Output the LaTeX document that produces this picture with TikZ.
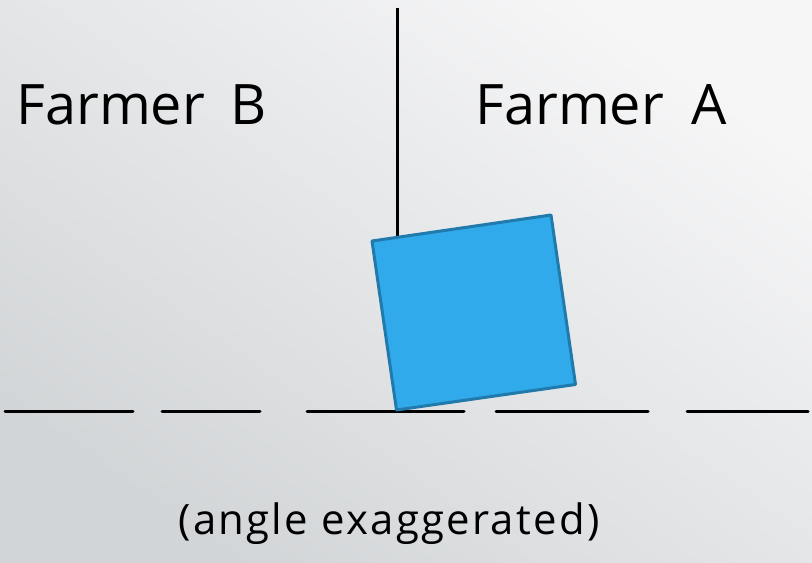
\documentclass[tikz,border=0pt]{standalone}
\usepackage{fontspec}
\setmainfont{Open Sans}
\usetikzlibrary{calc}
\definecolor{ink}{gray}{0.0}
\definecolor{bgtop}{RGB}{246,246,247}
\definecolor{bgbot}{RGB}{210,213,215}
\definecolor{boxfill}{RGB}{48,170,234}
\definecolor{boxedge}{RGB}{32,122,172}

\begin{document}
\begin{tikzpicture}[x=1bp, y=-1bp, line width=3bp,
   lbl/.style={inner sep=0pt, text=ink, font=\fontsize{56}{60}\selectfont},
   note/.style={inner sep=0pt, text=ink, font=\fontsize{42}{46}\selectfont\addfontfeatures{LetterSpace=5.5}},
   ground/.style={draw=ink, line cap=round}]
  % background
  \useasboundingbox (0,0) rectangle (812,563);
  \shade[top color=bgtop, bottom color=bgbot, shading angle=-35] (0,0) rectangle (812,563);
  % labels
  \node[lbl, anchor=base west](fb) at (15,125){Farmer\hspace{0.45em}B};
  \node[lbl, anchor=base west](fa) at (474,125){Farmer\hspace{0.5em}A};
  \node[note, anchor=base](ang) at (389,534){(angle exaggerated)};
  % tilted block
  \coordinate (c1) at (372,241); \coordinate (c2) at (551,215);
  \coordinate (c3) at (575.5,384.5); \coordinate (c4) at (396.5,410);
  \coordinate (top) at (397,8); \coordinate (hinge) at (397,238);
  \draw[ink] (top)--(hinge);
  % ground dashes
  \coordinate (g1) at (5,411); \coordinate (g2) at (133,411);
  \coordinate (g3) at (162,411); \coordinate (g4) at (260,411);
  \coordinate (g5) at (307,411); \coordinate (g6) at (464,411);
  \coordinate (g7) at (496,411); \coordinate (g8) at (648,411);
  \coordinate (g9) at (687,411); \coordinate (g10) at (808,411);
  \draw[ground] (g1)--(g2) (g3)--(g4) (g5)--(g6) (g7)--(g8) (g9)--(g10);
  \draw[boxedge, fill=boxfill, line join=round] (c1)--(c2)--(c3)--(c4)--cycle;
\end{tikzpicture}
\end{document}
